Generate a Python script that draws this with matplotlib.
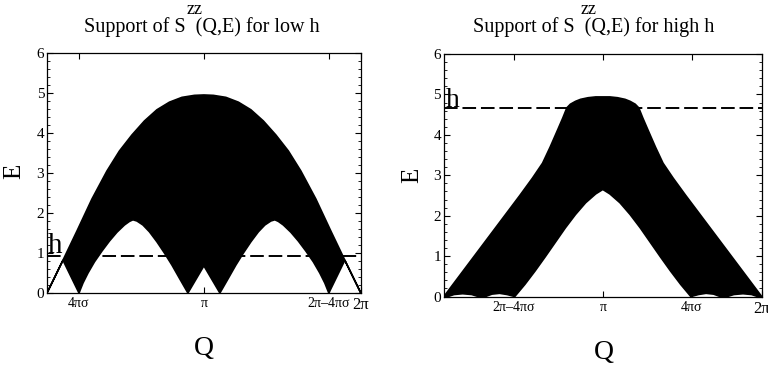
import matplotlib.pyplot as plt
from matplotlib.ticker import MultipleLocator

plt.rcParams['font.family'] = ['Liberation Serif', 'DejaVu Serif']

# low h panel: outer (upper) edge and inner (lower) edge of the support
low_q_up = [0, 0.32, 0.6, 0.9, 1.2, 1.45, 1.7, 1.95, 2.2, 2.45, 2.7, 2.95, 3.14,
            3.33, 3.58, 3.83, 4.08, 4.33, 4.58, 4.83, 5.08, 5.38, 5.68, 5.96, 6.28]
low_e_up = [0, 0.82, 1.55, 2.35, 3.05, 3.55, 3.95, 4.3, 4.58, 4.77, 4.89, 4.94, 4.95,
            4.94, 4.89, 4.77, 4.58, 4.3, 3.95, 3.55, 3.05, 2.35, 1.55, 0.82, 0]
low_q_lo = [0, 0.32, 0.64, 0.72, 0.82, 0.95, 1.1, 1.25, 1.4, 1.55, 1.65, 1.72, 1.8, 1.92,
            2.05, 2.2, 2.35, 2.5, 2.65, 2.82, 3.14,
            3.46, 3.63, 3.78, 3.93, 4.08, 4.23, 4.36, 4.48, 4.56, 4.63, 4.73, 4.88,
            5.03, 5.18, 5.33, 5.46, 5.56, 5.64, 5.96, 6.28]
low_e_lo = [0, 0.82, 0, 0.25, 0.5, 0.78, 1.05, 1.3, 1.52, 1.7, 1.79, 1.83, 1.8, 1.7,
            1.53, 1.28, 1.0, 0.7, 0.37, 0, 0.68,
            0, 0.37, 0.7, 1.0, 1.28, 1.53, 1.7, 1.8, 1.83, 1.79, 1.7, 1.52,
            1.3, 1.05, 0.78, 0.5, 0.25, 0, 0.82, 0]
low_h = 0.93
low_ticks = [0.64, 3.14159, 5.64, 6.28318]
low_labels = ['4πσ', 'π', '2π–4πσ', '2π']

# high h panel
high_q_up = [0, 0.3, 0.6, 0.9, 1.2, 1.5, 1.75, 1.95, 2.1, 2.25, 2.35, 2.43, 2.5, 2.6, 2.7,
             2.85, 3.0, 3.14, 3.28, 3.43, 3.58, 3.68, 3.78, 3.85, 3.93, 4.03, 4.18, 4.33,
             4.53, 4.78, 5.08, 5.38, 5.68, 5.98, 6.28]
high_e_up = [0, 0.5, 1.0, 1.5, 2.0, 2.5, 2.93, 3.3, 3.7, 4.13, 4.42, 4.67, 4.76, 4.83, 4.88,
             4.92, 4.94, 4.94, 4.94, 4.92, 4.88, 4.83, 4.76, 4.67, 4.42, 4.13, 3.7, 3.3,
             2.93, 2.5, 2.0, 1.5, 1.0, 0.5, 0]
high_q_lo = [0, 0.08, 0.2, 0.37, 0.55, 0.68, 0.82, 0.95, 1.1, 1.25, 1.4,
             1.6, 1.8, 2.0, 2.2, 2.4, 2.6, 2.8, 3.0, 3.14,
             3.28, 3.48, 3.68, 3.88, 4.08, 4.28, 4.48, 4.68, 4.88,
             5.03, 5.18, 5.33, 5.46, 5.6, 5.73, 5.91, 6.08, 6.2, 6.28]
high_e_lo = [0, 0, 0.05, 0.07, 0.05, 0, 0, 0.06, 0.08, 0.05, 0,
             0.3, 0.63, 0.98, 1.34, 1.7, 2.03, 2.32, 2.54, 2.65,
             2.54, 2.32, 2.03, 1.7, 1.34, 0.98, 0.63, 0.3, 0,
             0.05, 0.08, 0.06, 0, 0, 0.05, 0.07, 0.05, 0, 0]
high_h = 4.67
high_ticks = [1.38, 3.14159, 4.90, 6.28318]
high_labels = ['2π–4πσ', 'π', '4πσ', '2π']

fig = plt.figure(figsize=(7.68, 3.73), dpi=100)
ax1 = fig.add_axes([0.0612, 0.2145, 0.4088, 0.6435])
ax2 = fig.add_axes([0.578, 0.205, 0.414, 0.650])


def draw(ax, qu, eu, ql, el, h, ticks, labels):
    xs = list(qu) + list(ql[::-1])
    ys = list(eu) + list(el[::-1])
    ax.fill(xs, ys, color='black', lw=1.2, zorder=2)
    ax.axhline(h, color='black', lw=1.4, ls=(0, (7, 2.5)), zorder=3)
    ax.set_xlim(0, 6.28318)
    ax.set_ylim(0, 6)
    ax.set_xticks(ticks)
    ax.set_xticklabels(labels)
    for lab in ax.get_xticklabels():
        lab.set_fontsize(12 if lab.get_text() == '2π' else 10)
    ax.yaxis.set_major_locator(MultipleLocator(1))
    ax.yaxis.set_minor_locator(MultipleLocator(0.2))
    ax.tick_params(direction='in', top=True, right=True, length=4, width=0.8, pad=3)
    ax.tick_params(axis='y', labelsize=11, pad=2)
    ax.tick_params(which='minor', direction='in', right=True, length=2, width=0.6)
    for s in ax.spines.values():
        s.set_linewidth(0.9)


draw(ax1, low_q_up, low_e_up, low_q_lo, low_e_lo, low_h, low_ticks, low_labels)
draw(ax2, high_q_up, high_e_up, high_q_lo, high_e_lo, high_h, high_ticks, high_labels)

ax1.text(0.02, low_h + 0.08, 'h', fontsize=21, va='baseline', ha='left')
ax2.text(0.04, high_h + 0.02, 'h', fontsize=20, va='baseline', ha='left')

fig.text(0.263, 0.914, 'Support of S  (Q,E) for low h', fontsize=14.5, ha='center', va='baseline')
fig.text(0.253, 0.962, 'zz', fontsize=13, ha='center', va='baseline')
fig.text(0.773, 0.914, 'Support of S  (Q,E) for high h', fontsize=14.5, ha='center', va='baseline')
fig.text(0.766, 0.962, 'zz', fontsize=13, ha='center', va='baseline')

fig.text(0.018, 0.54, 'E', fontsize=18, rotation=90, ha='center', va='center')
fig.text(0.537, 0.53, 'E', fontsize=18, rotation=90, ha='center', va='center')
fig.text(0.266, 0.065, 'Q', fontsize=20, ha='center', va='center')
fig.text(0.786, 0.055, 'Q', fontsize=20, ha='center', va='center')

fig.savefig('out.png', dpi=100)
